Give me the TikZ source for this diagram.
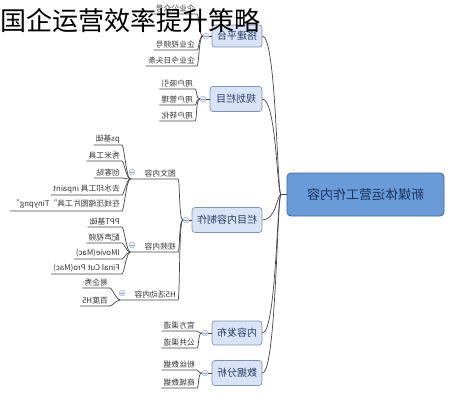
\documentclass[tikz,border=0pt]{standalone}
\usepackage{fontspec}
\usepackage{graphicx}
\setmainfont{Noto Sans CJK SC}
\newcommand\mir[1]{\reflectbox{#1}}
\definecolor{linec}{HTML}{454545}
\definecolor{rootf}{HTML}{6A9BD9}
\definecolor{rootb}{HTML}{3C669E}
\definecolor{roottext}{HTML}{1B355E}
\definecolor{l1f}{HTML}{D8E3F6}
\definecolor{l1b}{HTML}{7F93B4}
\definecolor{l1text}{HTML}{2A3D62}
\definecolor{leaftext}{HTML}{333333}
\definecolor{knobf}{HTML}{E6ECF6}
\definecolor{knobb}{HTML}{9AA8BE}
\begin{document}
\begin{tikzpicture}[x=1pt,y=-1pt,
  conn/.style={draw=linec, line width=0.7pt},
  rootbox/.style={draw=rootb, fill=rootf, rounded corners=4pt, line width=0.8pt,
    minimum width=157pt, minimum height=43pt, font=\fontsize{13}{15}\selectfont,
    text=roottext, inner sep=0},
  l1box/.style={draw=l1b, fill=l1f, rounded corners=3pt, line width=0.7pt,
    minimum height=24pt, font=\fontsize{10}{12}\selectfont, text=l1text, inner sep=0},
  leaf/.style={anchor=south east, inner xsep=2pt, inner ysep=2pt,
    font=\fontsize{7.8}{9}\selectfont, text=leaftext},
  knob/.style={circle, draw=knobb, fill=knobf, minimum size=6pt, inner sep=0, line width=0.4pt}
]
\useasboundingbox (0,0) rectangle (458,400);

% root
\node[rootbox] (root) at (365.5,194.5) {\mir{新媒体运营工作内容}};
\coordinate (rj) at (281,194.5);

% level 1
\node[l1box, minimum width=50pt, minimum height=22pt] (n1) at (237,36) {\mir{搭建平台}};
\node[l1box, minimum width=52pt, minimum height=25pt] (n2) at (236,99) {\mir{规划栏目}};
\node[l1box, minimum width=70pt, minimum height=25pt] (n3) at (227,220) {\mir{栏目内容制作}};
\node[l1box, minimum width=50pt] (n4) at (237,333) {\mir{内容发布}};
\node[l1box, minimum width=50pt, minimum height=25pt] (n5) at (237,373) {\mir{数据分析}};

\draw[conn] (root.west) -- (rj);
\foreach \n in {n1,n2,n3,n4,n5}
  \draw[conn] (rj) .. controls +(-4,0) and +(14,0) .. (\n.east);

% knobs
\node[knob] (k1) at (206,36) {};
\node[knob] (k2) at (203,99) {};
\node[knob] (k3) at (186,220) {};
\node[knob] (k4) at (205,333) {};
\node[knob] (k5) at (205,373) {};
\draw[conn] (k1.east) -- (n1.west);
\draw[conn] (k2.east) -- (n2.west);
\draw[conn] (k3.east) -- (n3.west);
\draw[conn] (k4.east) -- (n4.west);
\draw[conn] (k5.east) -- (n5.west);

% group 1
\node[leaf] (a1) at (197,14) {\mir{企业公众号}\hspace{3pt}};
\node[leaf] (a2) at (197,50) {\mir{企业视频号}\hspace{3pt}};
\node[leaf] (a3) at (197,66) {\mir{企业今日头条}\hspace{3pt}};
\foreach \c in {a1,a2,a3}
  \draw[conn] (k1.west) .. controls +(-4,0) and +(2,0) .. (\c.south east) -- (\c.south west);

% group 2
\node[leaf] (b1) at (195,89) {\mir{用户吸引}\hspace{3pt}};
\node[leaf] (b2) at (195,105) {\mir{用户管理}\hspace{3pt}};
\node[leaf] (b3) at (195,121) {\mir{用户转化}\hspace{3pt}};
\foreach \c in {b1,b2,b3}
  \draw[conn] (k2.west) .. controls +(-4,0) and +(2,0) .. (\c.south east) -- (\c.south west);

% group 3 children
\node[leaf] (c1) at (178,179) {\hspace{12pt}\mir{图文内容}\hspace{4pt}};
\node[leaf] (c2) at (178,252) {\hspace{12pt}\mir{视频内容}\hspace{4pt}};
\node[leaf] (c3) at (178,300) {\hspace{12pt}\mir{H5活动内容}\hspace{4pt}};
\foreach \c in {c1,c2,c3}
  \draw[conn] (k3.west) .. controls +(-4,0) and +(2,0) .. (\c.south east) -- (\c.south west);
\node[knob] (kc1) at (132,172) {};
\node[knob] (kc2) at (132,245) {};
\node[knob] (kc3) at (122,293) {};

% grandchildren of 图文内容
\node[leaf] (d1) at (122,145) {\mir{ps基础}\hspace{3pt}};
\node[leaf] (d2) at (122,161) {\mir{秀米工具}\hspace{3pt}};
\node[leaf] (d3) at (122,178) {\mir{创客贴}\hspace{3pt}};
\node[leaf] (d4) at (122,195) {\mir{去水印工具 inpaint}\hspace{3pt}};
\node[leaf] (d5) at (122,211) {\mir{在线压缩图片工具"Tinypng"}\hspace{3pt}};
\foreach \c in {d1,d2,d3,d4,d5}
  \draw[conn] (c1.south west) .. controls +(-4,0) and +(2,0) .. (\c.south east) -- (\c.south west);

% grandchildren of 视频内容
\node[leaf] (e1) at (122,227) {\mir{PPT基础}\hspace{3pt}};
\node[leaf] (e2) at (122,243) {\mir{配声视频}\hspace{3pt}};
\node[leaf] (e3) at (122,259) {\mir{IMovie(Mac)}\hspace{3pt}};
\node[leaf] (e4) at (122,274) {\mir{Final Cut Pro(Mac)}\hspace{3pt}};
\foreach \c in {e1,e2,e3,e4}
  \draw[conn] (c2.south west) .. controls +(-4,0) and +(2,0) .. (\c.south east) -- (\c.south west);

% grandchildren of H5活动内容
\node[leaf] (f1) at (110,288) {\mir{易企秀}\hspace{4pt}};
\node[leaf] (f2) at (110,306) {\mir{百度H5}\hspace{4pt}};
\foreach \c in {f1,f2}
  \draw[conn] (c3.south west) .. controls +(-4,0) and +(2,0) .. (\c.south east) -- (\c.south west);

% group 4
\node[leaf] (g1) at (197,331) {\mir{官方渠道}\hspace{5pt}};
\node[leaf] (g2) at (197,348) {\mir{公共渠道}\hspace{5pt}};
\foreach \c in {g1,g2}
  \draw[conn] (k4.west) .. controls +(-4,0) and +(2,0) .. (\c.south east) -- (\c.south west);

% group 5
\node[leaf] (h1) at (197,370) {\mir{粉丝数据}\hspace{5pt}};
\node[leaf] (h2) at (197,388) {\mir{商城数据}\hspace{5pt}};
\foreach \c in {h1,h2}
  \draw[conn] (k5.west) .. controls +(-4,0) and +(2,0) .. (\c.south east) -- (\c.south west);

% knob minus signs
\foreach \k in {k1,k2,k3,k4,k5,kc1,kc2,kc3}
  \draw[knobb, line width=0.5pt] ([xshift=1.3pt]\k.west) -- ([xshift=-1.3pt]\k.east);

% title
\node[anchor=west, inner sep=0, font=\fontsize{26}{30}\selectfont, text=black] (title) at (0,21) {国企运营效率提升策略};
\end{tikzpicture}
\end{document}
